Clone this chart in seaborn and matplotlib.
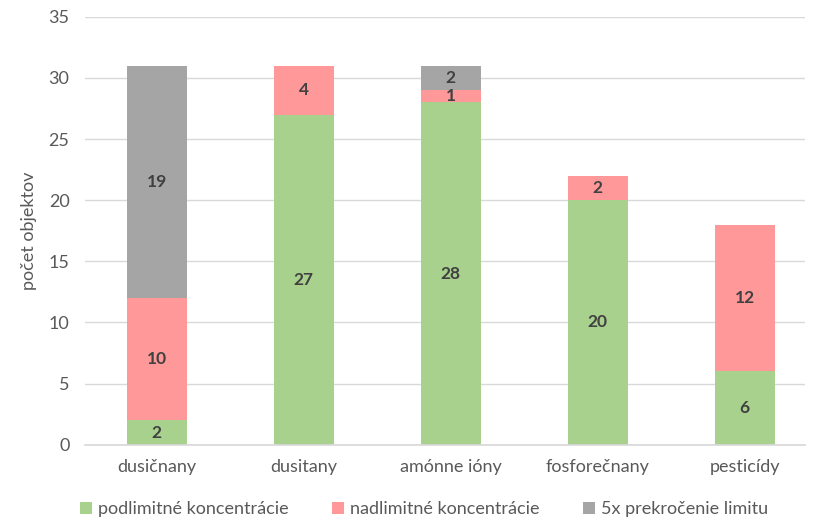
import numpy as np
import pandas as pd
import matplotlib
matplotlib.use("Agg")
import matplotlib.pyplot as plt
import seaborn as sns

# Data
categories = ["dusičnany", "dusitany", "amónne ióny", "fosforečnany", "pesticídy"]
podlimitne = [2, 27, 28, 20, 6]
nadlimitne = [10, 4, 1, 2, 12]
prekrocenie = [19, 0, 2, 0, 0]
series_names = ["podlimitné koncentrácie", "nadlimitné koncentrácie", "5x prekročenie limitu"]
colors = ["#A9D18E", "#FF9999", "#A5A5A5"]

sns.set_theme(style="white")
plt.rcParams["font.family"] = ["Lato", "DejaVu Sans"]

fig = plt.figure(figsize=(8.23, 5.22), dpi=100)
ax = fig.add_axes([0.103, 0.148, 0.875, 0.82])

bottom = np.zeros(len(categories))
for name, vals, col in zip(series_names, [podlimitne, nadlimitne, prekrocenie], colors):
    df = pd.DataFrame({"kategoria": categories, "pocet": vals})
    sns.barplot(data=df, x="kategoria", y="pocet", color=col, bottom=bottom,
                width=0.41, ax=ax, label=name, linewidth=0, saturation=1)
    for i, v in enumerate(vals):
        if v > 0:
            ax.text(i, bottom[i] + v / 2, str(v), ha="center", va="center",
                    fontsize=12.5, fontweight="bold", color="#404040")
    bottom = bottom + np.array(vals)

ax.set_ylim(0, 35)
ax.set_yticks(range(0, 36, 5))
ax.set_xlim(-0.49, 4.41)
ax.yaxis.grid(True, color="#D9D9D9", linewidth=1)
ax.set_axisbelow(True)
for s in ["top", "right", "left"]:
    ax.spines[s].set_visible(False)
ax.spines["bottom"].set_color("#D9D9D9")
ax.tick_params(axis="both", length=0, labelsize=13, labelcolor="#595959")
ax.tick_params(axis="x", pad=10)
ax.tick_params(axis="y", pad=11)
ax.set_xlabel("")
ax.set_ylabel("počet objektov", fontsize=13, color="#595959", labelpad=8)

handles, labels = ax.get_legend_handles_labels()
if ax.legend_:
    ax.legend_.remove()
fig.legend(handles[:3], labels[:3], loc="lower center", ncol=3, frameon=False,
           bbox_to_anchor=(0.515, -0.022), fontsize=13, labelcolor="#595959",
           handlelength=0.7, handleheight=0.7, handletextpad=0.3, columnspacing=2.4)

fig.savefig("out.png", dpi=100)
